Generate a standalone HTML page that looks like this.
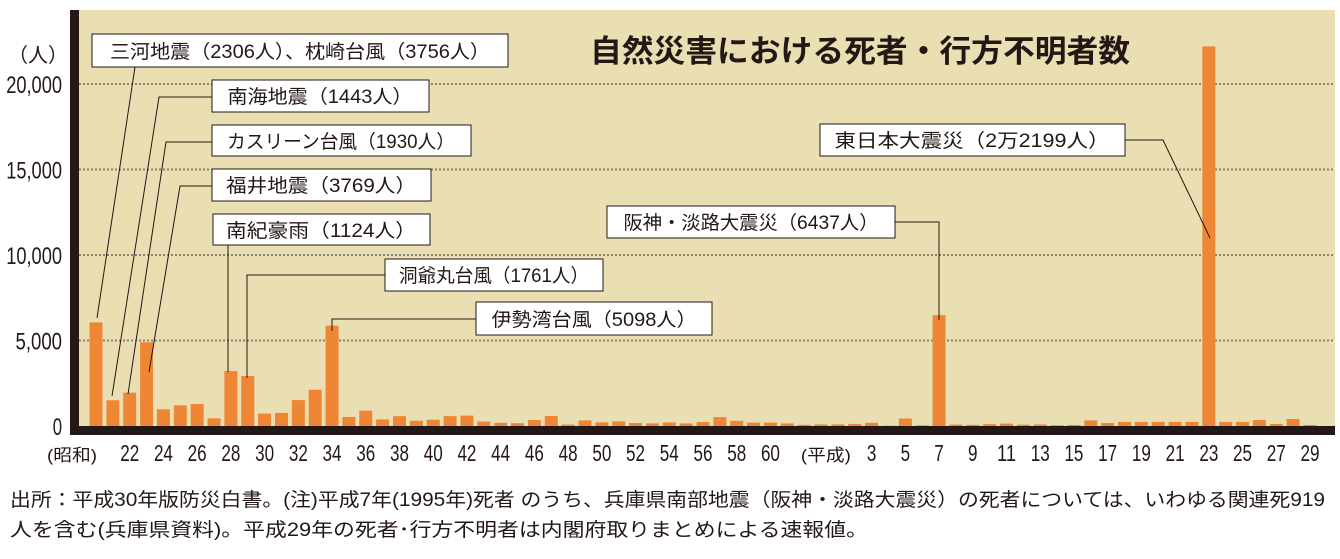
<!DOCTYPE html>
<html><head><meta charset="utf-8">
<style>
body{margin:0;background:#fff;}
svg{display:block;font-family:"Liberation Sans","Noto Sans CJK JP",sans-serif;}
.tk{font-family:"Liberation Sans","Noto Sans CJK JP",sans-serif;fill:#231815;}
.ann{font-size:19px;fill:#231815;}
</style></head>
<body>
<svg id="chart" width="1340" height="559" viewBox="0 0 1340 559">
<rect x="70" y="10" width="1265" height="424" fill="#e9dfb3"/>
<g id="grid"></g>
<g id="bars"></g>
<rect x="70" y="10" width="9" height="424" fill="#231815"/>
<rect x="70" y="426" width="1265" height="9" fill="#231815"/>
<g id="yticks"></g>
<g id="xticks"></g>
<text x="38" y="62" text-anchor="middle" font-size="20" fill="#231815">（人）</text>
<text x="590" y="62" font-size="31" font-weight="bold" fill="#231815" textLength="540" lengthAdjust="spacingAndGlyphs">自然災害における死者・行方不明者数</text>

<g stroke="#231815" stroke-width="1" fill="none">
<polyline points="135,67 97,318"/>
<polyline points="212,97 159,97 112,396"/>
<polyline points="212,142 166,142 128,394"/>
<polyline points="212,186 180,186 149,372"/>
<polyline points="228,245 228,372"/>
<polyline points="385,275 247,275 247,378"/>
<polyline points="476,319 332,319 332,331"/>
<polyline points="895,222 939,222 939,320"/>
<polyline points="1125,140 1163,140 1210,238"/>
</g>
<g>
<rect x="92" y="34" width="416" height="33" fill="#fff" stroke="#231815"/>
<text class="ann" x="300" y="58" text-anchor="middle" textLength="380" lengthAdjust="spacingAndGlyphs">三河地震（2306人）、枕崎台風（3756人）</text>
<rect x="212" y="80" width="217" height="32" fill="#fff" stroke="#231815"/>
<text class="ann" x="320" y="103" text-anchor="middle" textLength="185" lengthAdjust="spacingAndGlyphs">南海地震（1443人）</text>
<rect x="212" y="125" width="259" height="31" fill="#fff" stroke="#231815"/>
<text class="ann" x="341" y="148" text-anchor="middle" textLength="228" lengthAdjust="spacingAndGlyphs">カスリーン台風（1930人）</text>
<rect x="212" y="169" width="219" height="32" fill="#fff" stroke="#231815"/>
<text class="ann" x="321" y="192" text-anchor="middle" textLength="190" lengthAdjust="spacingAndGlyphs">福井地震（3769人）</text>
<rect x="213" y="214" width="217" height="31" fill="#fff" stroke="#231815"/>
<text class="ann" x="321" y="237" text-anchor="middle" textLength="190" lengthAdjust="spacingAndGlyphs">南紀豪雨（1124人）</text>
<rect x="385" y="259" width="218" height="32" fill="#fff" stroke="#231815"/>
<text class="ann" x="494" y="282" text-anchor="middle" textLength="190" lengthAdjust="spacingAndGlyphs">洞爺丸台風（1761人）</text>
<rect x="476" y="302" width="236" height="33" fill="#fff" stroke="#231815"/>
<text class="ann" x="594" y="326" text-anchor="middle" textLength="205" lengthAdjust="spacingAndGlyphs">伊勢湾台風（5098人）</text>
<rect x="607" y="206" width="288" height="32" fill="#fff" stroke="#231815"/>
<text class="ann" x="751" y="229" text-anchor="middle" textLength="255" lengthAdjust="spacingAndGlyphs">阪神・淡路大震災（6437人）</text>
<rect x="820" y="124" width="305" height="32" fill="#fff" stroke="#231815"/>
<text class="ann" x="972" y="147" text-anchor="middle" textLength="275" lengthAdjust="spacingAndGlyphs">東日本大震災（2万2199人）</text>
</g>
<text x="10" y="506" font-size="19" fill="#231815" textLength="1315" lengthAdjust="spacingAndGlyphs">出所：平成30年版防災白書。(注)平成7年(1995年)死者 のうち、兵庫県南部地震（阪神・淡路大震災）の死者については、いわゆる関連死919</text>
<text x="10" y="536" font-size="19" fill="#231815" textLength="858" lengthAdjust="spacingAndGlyphs">人を含む(兵庫県資料)。平成29年の死者･行方不明者は内閣府取りまとめによる速報値。</text>
</svg>
<script>
const yearLabels = ["(昭和)","","22","","24","","26","","28","","30","","32","","34","","36","","38","","40","","42","","44","","46","","48","","50","","52","","54","","56","","58","","60","","","","(平成)","","3","","5","","7","","9","","11","","13","","15","","17","","19","","21","","23","","25","","27","","29"];
const deaths = [6062,1504,1950,4897,975,1210,1291,449,3212,2926,727,765,1515,2120,5868,528,902,381,575,307,367,578,607,259,183,163,350,587,85,324,213,273,174,153,208,148,232,524,301,199,199,148,69,93,96,123,190,19,438,39,6482,84,71,109,141,78,90,48,62,327,180,240,240,240,240,240,22199,240,240,350,120,410,60];
const yTicks = [0,5000,10000,15000,20000];
const yTickLabels = ["0","5,000","10,000","15,000","20,000"];

const NS="http://www.w3.org/2000/svg";
const y0=426, yPerUnit=342/20000;
function yScale(v){return y0 - v*yPerUnit;}
function xScale(i){return 96 + i*(1310-96)/72;}
function mk(tag,attrs,parent){const e=document.createElementNS(NS,tag);for(const k in attrs)e.setAttribute(k,attrs[k]);parent.appendChild(e);return e;}
const grid=document.getElementById('grid'),bars=document.getElementById('bars'),yt=document.getElementById('yticks'),xt=document.getElementById('xticks');
yTicks.forEach((v,i)=>{
  if(v>0){
    const l=mk('line',{x1:79,x2:1335,y1:yScale(v),y2:yScale(v),stroke:'#8a8170','stroke-width':2,'stroke-dasharray':'2,2'},grid);
    
    
  }
  const lab=yTickLabels[i];
  const w=lab.length*9.3;
  const t=mk('text',{x:62,y:yScale(v)+9,'text-anchor':'end','font-size':24,class:'tk',textLength:w,lengthAdjust:'spacingAndGlyphs'},yt);
  t.textContent=lab;
  
  
});
deaths.forEach((v,i)=>{
  const r=mk('rect',{x:xScale(i)-6.5,y:yScale(v),width:13,height:y0-yScale(v),fill:'#ee8636'},bars);
  
  
});
yearLabels.forEach((s,i)=>{
  if(!s)return;
  const paren=s.startsWith('(');
  const attrs={x:xScale(i)+(paren&&i===0?-24:(paren?-12:0)),y:461,'text-anchor':'middle','font-size':paren?17:23,class:'tk',lengthAdjust:'spacingAndGlyphs'};
  attrs.textLength=paren?50:(s.length*9.5);
  const t=mk('text',attrs,xt);
  t.textContent=s;
  
  
});
</script>
</body></html>
